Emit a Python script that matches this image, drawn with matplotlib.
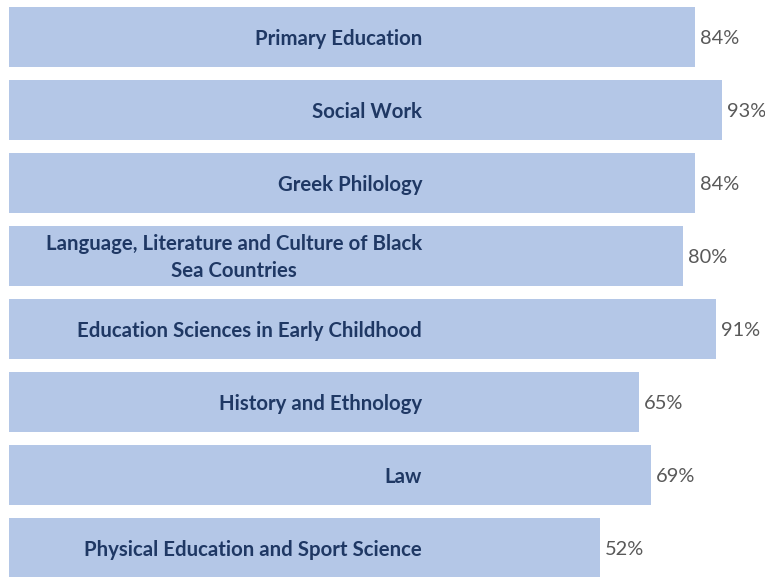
import matplotlib
matplotlib.use("Agg")
import matplotlib.pyplot as plt
import numpy as np

categories = [
    "Primary Education",
    "Social Work",
    "Greek Philology",
    "Language, Literature and Culture of Black\nSea Countries",
    "Education Sciences in Early Childhood",
    "History and Ethnology",
    "Law",
    "Physical Education and Sport Science",
]
values = [84, 93, 84, 80, 91, 65, 69, 52]
value_labels = ["84%", "93%", "84%", "80%", "91%", "65%", "69%", "52%"]

BAR_COLOR = "#B4C7E7"
LABEL_COLOR = "#1F3864"
PCT_COLOR = "#595959"

plt.rcParams['font.family'] = ['Lato', 'DejaVu Sans']

fig = plt.figure(figsize=(7.65, 5.77), dpi=100)
ax = fig.add_axes([0, 0, 1, 1])

xmin, xmax = -150.0, 107.5
bar_left = -147.0
y = np.arange(len(values))
vals = np.array(values, dtype=float)
ax.barh(y, vals - bar_left, left=bar_left, height=0.82, color=BAR_COLOR, edgecolor='none')

for yi, v, cat, lab in zip(y, vals, categories, value_labels):
    ax.text(-7.9, yi + 0.025, cat, ha='right', va='center', color=LABEL_COLOR,
            fontsize=14.7, fontweight='bold', multialignment='center', linespacing=1.45)
    ax.text(v + 1.7, yi + 0.015, lab, ha='left', va='center', color=PCT_COLOR, fontsize=14.4)

ax.set_xlim(xmin, xmax)
ax.set_ylim(len(values) - 1 + 0.397, -0.507)
ax.axis('off')

fig.savefig("out.png", dpi=100)
